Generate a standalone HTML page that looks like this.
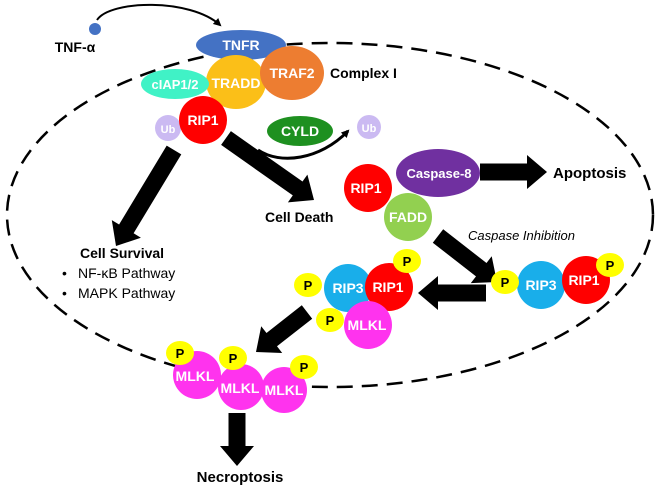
<!DOCTYPE html>
<html><head><meta charset="utf-8"><style>body{margin:0;background:#fff}svg{display:block}text{font-family:"Liberation Sans",sans-serif}</style></head>
<body>
<svg id="s" width="661" height="489" viewBox="0 0 661 489" xmlns="http://www.w3.org/2000/svg">
<defs><marker id="ah" markerWidth="8" markerHeight="8" refX="6" refY="4" orient="auto" markerUnits="userSpaceOnUse"><path d="M0,0 L8,4 L0,8 z" fill="#000"/></marker></defs>
<ellipse cx="330" cy="215" rx="323" ry="172" fill="none" stroke="#000" stroke-width="2.5" stroke-dasharray="16,9"/>
<circle cx="95" cy="29" r="6" fill="#4472c4"/>
<text x="75" y="52" font-size="14" font-weight="bold" text-anchor="middle">TNF-α</text>
<path d="M97,20 C110,0 190,-2 220,25" fill="none" stroke="#000" stroke-width="2" marker-end="url(#ah)"/>
<g id="arrows"></g>
<g font-weight="bold" fill="#fff" text-anchor="middle" font-size="14">
<ellipse cx="241" cy="45" rx="45" ry="15" fill="#4472c4"/><text x="241" y="50">TNFR</text>
<ellipse cx="236" cy="82" rx="30" ry="27" fill="#fbbf18"/>
<ellipse cx="292" cy="73" rx="32" ry="27" fill="#ed7d31"/><text x="292" y="78">TRAF2</text>
<text x="236" y="88">TRADD</text>
<ellipse cx="175" cy="84" rx="34" ry="15" fill="#40f2c6"/><text x="175" y="89" font-size="13">cIAP1/2</text>
<circle cx="168" cy="128" r="13" fill="#cbbaf2"/><text x="168" y="133" font-size="11">Ub</text>
<circle cx="203" cy="120" r="24" fill="#ff0000"/><text x="203" y="125">RIP1</text>
<ellipse cx="300" cy="131" rx="33" ry="15" fill="#1e9020"/><text x="300" y="136">CYLD</text>
<circle cx="369" cy="127" r="12" fill="#cbbaf2"/><text x="369" y="132" font-size="11">Ub</text>
<circle cx="368" cy="188" r="24" fill="#ff0000"/><text x="366" y="193">RIP1</text>
<ellipse cx="438" cy="173" rx="42" ry="24" fill="#7030a0"/><text x="439" y="178" font-size="13">Caspase-8</text>
<circle cx="408" cy="217" r="24" fill="#92d050"/><text x="408" y="222">FADD</text>
<circle cx="541" cy="285" r="24" fill="#19aeea"/><text x="541" y="290">RIP3</text>
<circle cx="586" cy="280" r="24" fill="#ff0000"/><text x="584" y="285">RIP1</text>
<circle cx="348" cy="288" r="24" fill="#19aeea"/><text x="348" y="293">RIP3</text>
<circle cx="389" cy="287" r="24" fill="#ff0000"/><text x="388" y="292">RIP1</text>
<circle cx="368" cy="325" r="24" fill="#ff33ee"/><text x="367" y="330">MLKL</text>
<circle cx="197" cy="375" r="24" fill="#ff33ee"/>
<circle cx="241" cy="387" r="23" fill="#ff33ee"/>
<circle cx="284" cy="390" r="23" fill="#ff33ee"/>
<text x="195" y="381">MLKL</text><text x="240" y="393">MLKL</text><text x="284" y="395">MLKL</text>
</g>
<g font-weight="bold" text-anchor="middle" font-size="13">
<ellipse cx="505" cy="282" rx="14" ry="12" fill="#ffff00"/><text x="505" y="287">P</text>
<ellipse cx="610" cy="265" rx="14" ry="12" fill="#ffff00"/><text x="610" y="270">P</text>
<ellipse cx="308" cy="285" rx="14" ry="12" fill="#ffff00"/><text x="308" y="290">P</text>
<ellipse cx="407" cy="261" rx="14" ry="12" fill="#ffff00"/><text x="407" y="266">P</text>
<ellipse cx="330" cy="320" rx="14" ry="12" fill="#ffff00"/><text x="330" y="325">P</text>
<ellipse cx="180" cy="353" rx="14" ry="12" fill="#ffff00"/><text x="180" y="358">P</text>
<ellipse cx="233" cy="358" rx="14" ry="12" fill="#ffff00"/><text x="233" y="363">P</text>
<ellipse cx="304" cy="367" rx="14" ry="12" fill="#ffff00"/><text x="304" y="372">P</text>
</g>
<path d="M258,150 C280,165 320,160 348,131" fill="none" stroke="#000" stroke-width="3" marker-end="url(#ah)"/>
<g font-weight="bold" font-size="14">
<text x="330" y="78">Complex I</text>
<text x="265" y="222">Cell Death</text>
<text x="80" y="258">Cell Survival</text>
<text x="553" y="178" font-size="15">Apoptosis</text>
<text x="240" y="482" font-size="15" text-anchor="middle">Necroptosis</text>
</g>
<g font-size="14"><text x="62" y="278">•</text><text x="78" y="278">NF-κB Pathway</text><text x="62" y="298">•</text><text x="78" y="298">MAPK Pathway</text></g>
<text x="468" y="240" font-size="13" font-style="italic">Caspase Inhibition</text>
</svg>
<script>
var A=[[226,138,314,200],[174,150,116,246],[480,172,547,172],[438,236,497,282],[486,293,418,293],[307,312,256,352],[237,413,237,466]];
var g=document.getElementById('arrows'),h='';
A.forEach(function(a){var dx=a[2]-a[0],dy=a[3]-a[1],L=Math.hypot(dx,dy),ux=dx/L,uy=dy/L,nx=-uy,ny=ux,w=8.5,hw=17,hl=20;
var bx=a[2]-ux*hl,by=a[3]-uy*hl;
var p=[[a[0]+nx*w,a[1]+ny*w],[bx+nx*w,by+ny*w],[bx+nx*hw,by+ny*hw],[a[2],a[3]],[bx-nx*hw,by-ny*hw],[bx-nx*w,by-ny*w],[a[0]-nx*w,a[1]-ny*w]];
h+='<polygon fill="#000" points="'+p.map(function(q){return q[0].toFixed(1)+','+q[1].toFixed(1)}).join(' ')+'"/>';});
g.innerHTML=h;
</script>
</body></html>
